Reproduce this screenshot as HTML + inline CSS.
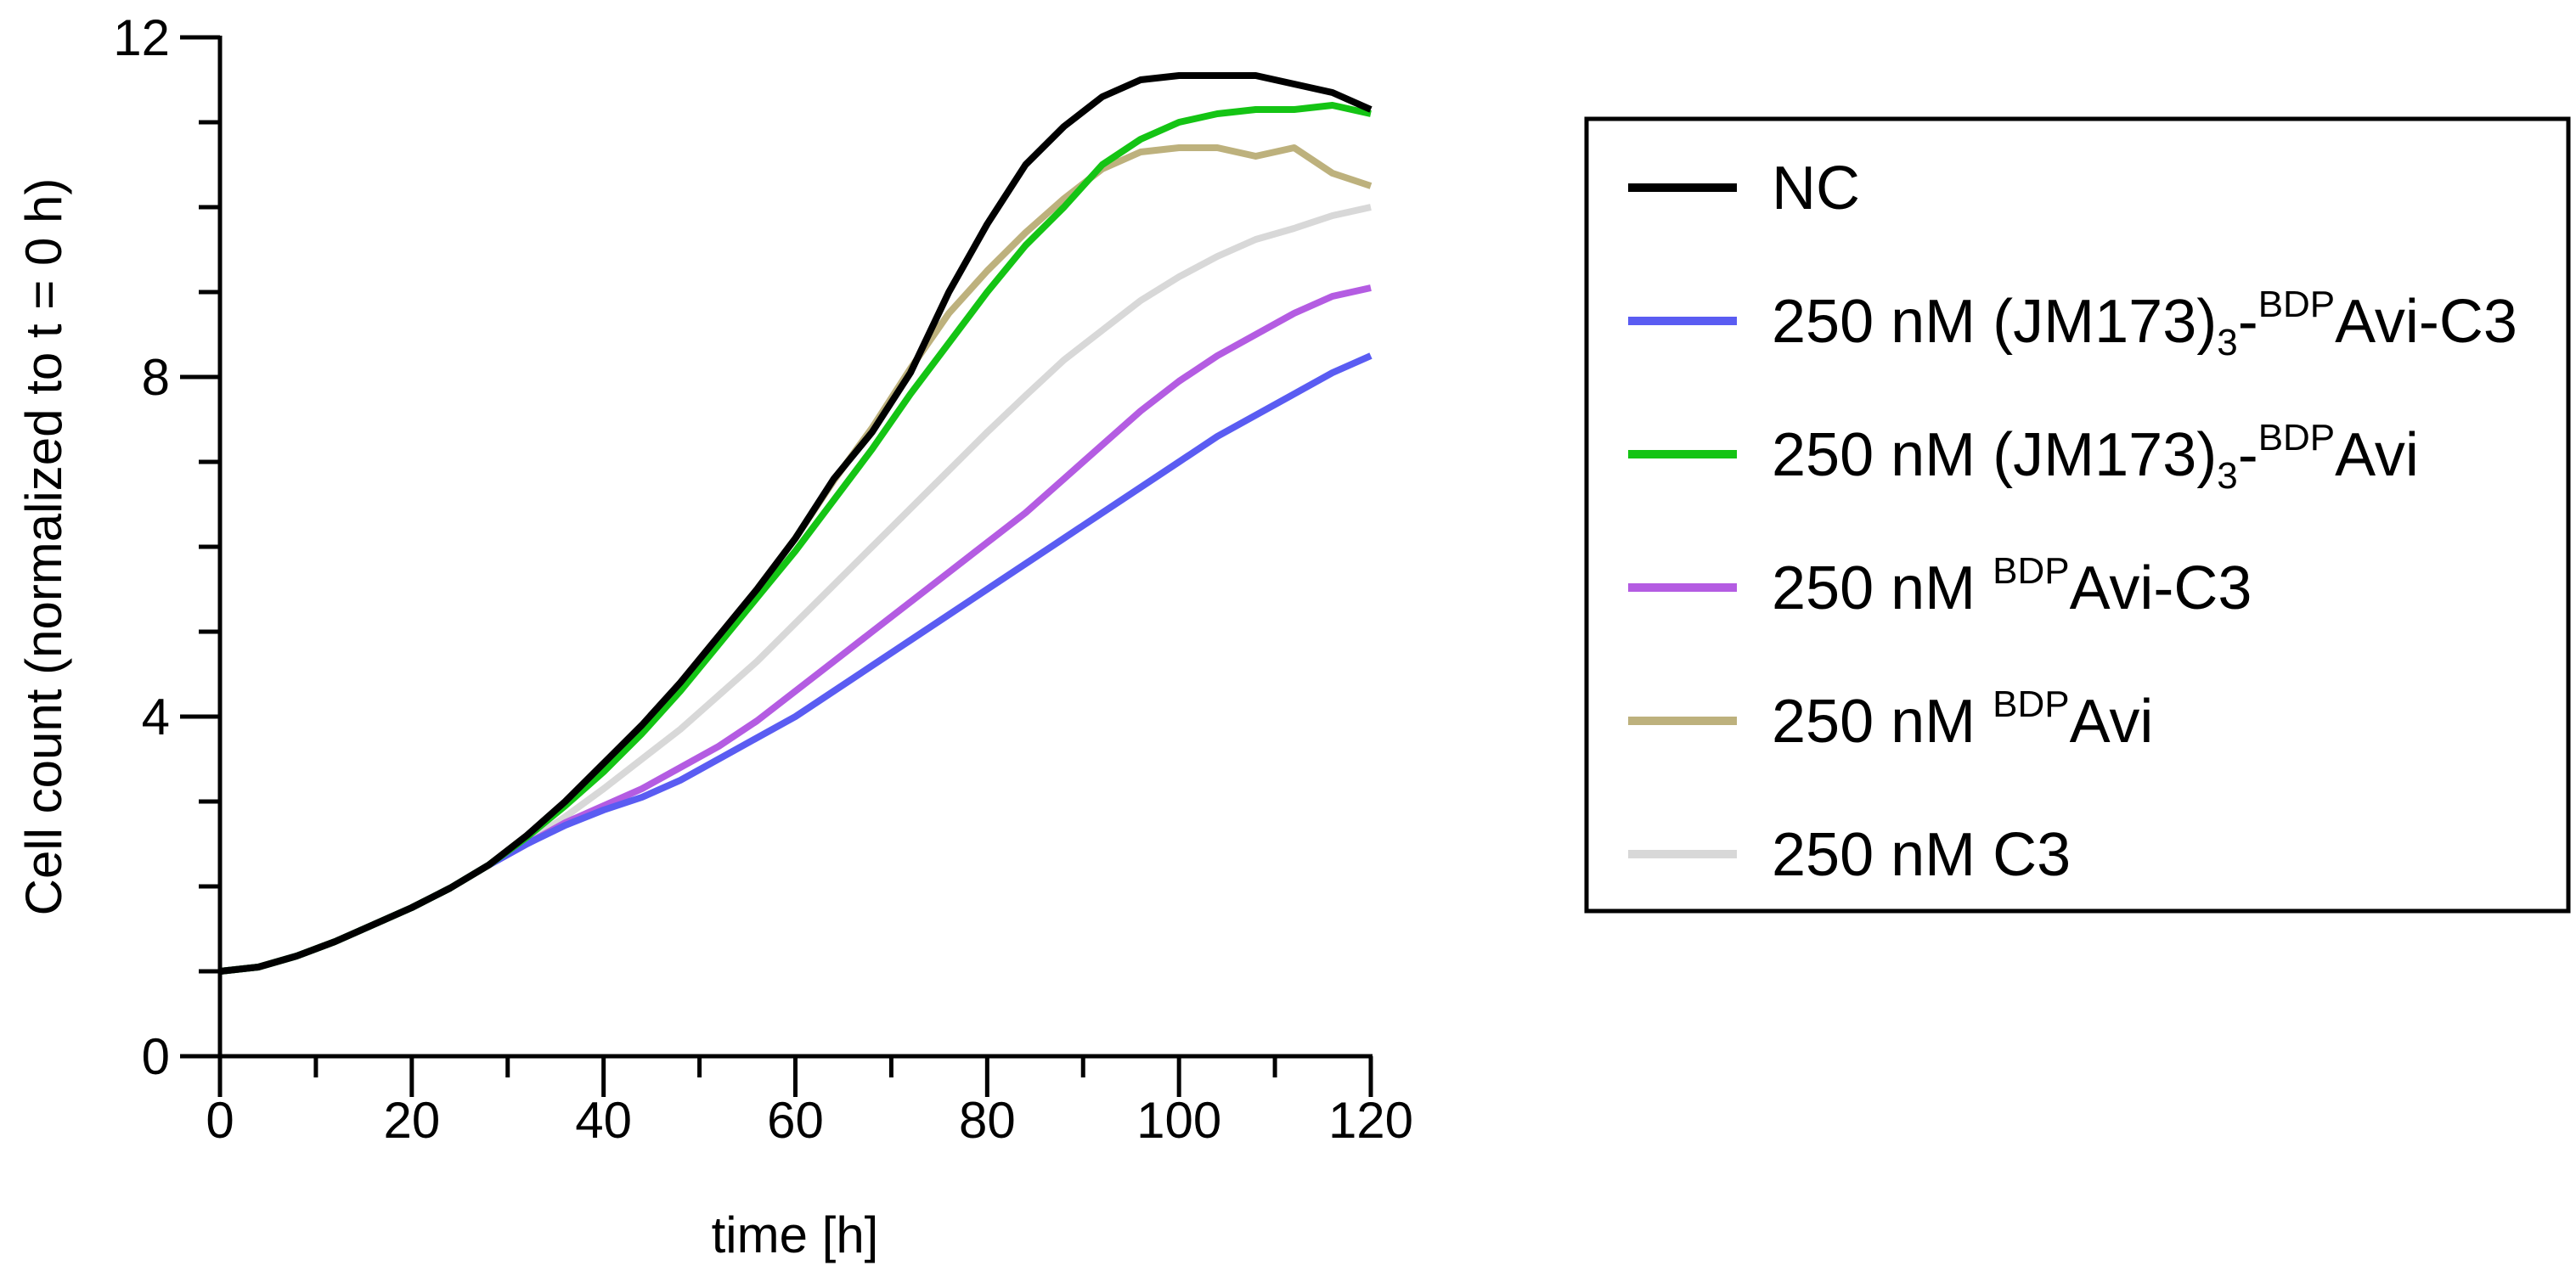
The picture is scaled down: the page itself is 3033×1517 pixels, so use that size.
<!DOCTYPE html>
<html><head><meta charset="utf-8"><style>
html,body{margin:0;padding:0;background:#fff;}
svg{display:block;font-family:"Liberation Sans",Arial,sans-serif;}
</style></head><body>
<svg id="chart" width="3033" height="1517" viewBox="0 0 3033 1517" xmlns="http://www.w3.org/2000/svg">
<g id="plot"></g>
<g id="axes"></g>
<text x="0" y="0" font-size="60" text-anchor="middle" transform="translate(72,644) rotate(-90)">Cell count (normalized to t = 0 h)</text>
<text x="936" y="1475" font-size="60" text-anchor="middle">time [h]</text>
<g>
<rect x="1868" y="140" width="1156" height="933" fill="none" stroke="#000" stroke-width="5"/>
<g id="legend-entries"></g>
</g>
</svg>
<script>
const times = [0,4,8,12,16,20,24,28,32,36,40,44,48,52,56,60,64,68,72,76,80,84,88,92,96,100,104,108,112,116,120];
const ncValues =    [1.0,1.05,1.18,1.35,1.55,1.75,1.98,2.25,2.6,3.0,3.45,3.9,4.4,4.95,5.5,6.1,6.8,7.35,8.05,9.0,9.8,10.5,10.95,11.3,11.5,11.55,11.55,11.55,11.45,11.35,11.15];
const jmC3Values =  [1.0,1.05,1.18,1.35,1.55,1.75,1.98,2.25,2.5,2.72,2.9,3.05,3.25,3.5,3.75,4.0,4.3,4.6,4.9,5.2,5.5,5.8,6.1,6.4,6.7,7.0,7.3,7.55,7.8,8.05,8.25];
const jmValues =    [1.0,1.05,1.18,1.35,1.55,1.75,1.98,2.25,2.58,2.95,3.35,3.8,4.3,4.85,5.4,5.95,6.55,7.15,7.8,8.4,9.0,9.55,10.0,10.5,10.8,11.0,11.1,11.15,11.15,11.2,11.1];
const bdpC3Values = [1.0,1.05,1.18,1.35,1.55,1.75,1.98,2.25,2.5,2.75,2.95,3.15,3.4,3.65,3.95,4.3,4.65,5.0,5.35,5.7,6.05,6.4,6.8,7.2,7.6,7.95,8.25,8.5,8.75,8.95,9.05];
const bdpValues =   [1.0,1.05,1.18,1.35,1.55,1.75,1.98,2.25,2.6,2.98,3.4,3.88,4.4,4.95,5.5,6.1,6.78,7.4,8.1,8.75,9.25,9.7,10.1,10.45,10.65,10.7,10.7,10.6,10.7,10.4,10.25];
const c3Values =    [1.0,1.05,1.18,1.35,1.55,1.75,1.98,2.25,2.52,2.82,3.15,3.5,3.85,4.25,4.65,5.1,5.55,6.0,6.45,6.9,7.35,7.78,8.2,8.55,8.9,9.18,9.42,9.62,9.75,9.9,10.0];
const xTicks = [0,20,40,60,80,100,120];
const yTicks = [0,4,8,12];

const NS="http://www.w3.org/2000/svg";
const X0=259,X1=1614,Y0=1244,Y1=44;
const xs=t=>X0+(t/120)*(X1-X0);
const ys=v=>Y0-(v/12)*(Y0-Y1);
function mk(tag,attrs,parent){const e=document.createElementNS(NS,tag);for(const k in attrs)e.setAttribute(k,attrs[k]);parent.appendChild(e);return e;}

const plot=document.getElementById('plot');
const series=[
 {id:'c3',vals:c3Values,color:'#d8d8d8'},
 {id:'bdp-avi-c3',vals:bdpC3Values,color:'#b45ce2'},
 {id:'jm173-bdp-avi-c3',vals:jmC3Values,color:'#5a5cf2'},
 {id:'bdp-avi',vals:bdpValues,color:'#bdb17d'},
 {id:'jm173-bdp-avi',vals:jmValues,color:'#14c414'},
 {id:'nc',vals:ncValues,color:'#000000'}
];
series.forEach(s=>{
  const d=s.vals.map((v,i)=>(i?'L':'M')+xs(times[i]).toFixed(1)+','+ys(v).toFixed(1)).join(' ');
  const p=mk('path',{d:d,fill:'none',stroke:s.color,'stroke-width':8,'stroke-linejoin':'round'},plot);
  
  
});

const axes=document.getElementById('axes');
const xa=mk('line',{x1:X0,y1:Y0,x2:X1+2,y2:Y0,stroke:'#000','stroke-width':5},axes);


const ya=mk('line',{x1:X0,y1:Y0,x2:X0,y2:Y1-2,stroke:'#000','stroke-width':5},axes);


for(let t=0;t<=120;t+=10){
  const major=t%20===0;
  const l=mk('line',{x1:xs(t),y1:Y0,x2:xs(t),y2:Y0+(major?48:25),stroke:'#000','stroke-width':5},axes);
  
  
}
for(let v=0;v<=12;v+=1){
  const major=v%4===0;
  const l=mk('line',{x1:X0,y1:ys(v),x2:X0-(major?47:25),y2:ys(v),stroke:'#000','stroke-width':5},axes);
  
  
}
xTicks.forEach(t=>{
  const e=mk('text',{x:xs(t),y:1340,'font-size':60,'text-anchor':'middle'},axes);
  e.textContent=t;
  
  
});
yTicks.forEach(v=>{
  const e=mk('text',{x:200,y:ys(v)+21,'font-size':60,'text-anchor':'end'},axes);
  e.textContent=v;
  
  
});

const leg=document.getElementById('legend-entries');
const entries=[
 {color:'#000000',parts:[['NC','n']]},
 {color:'#5a5cf2',parts:[['250 nM (JM173)','n'],['3','sub'],['-','n'],['BDP','sup'],['Avi-C3','n']]},
 {color:'#14c414',parts:[['250 nM (JM173)','n'],['3','sub'],['-','n'],['BDP','sup'],['Avi','n']]},
 {color:'#b45ce2',parts:[['250 nM ','n'],['BDP','sup'],['Avi-C3','n']]},
 {color:'#bdb17d',parts:[['250 nM ','n'],['BDP','sup'],['Avi','n']]},
 {color:'#d8d8d8',parts:[['250 nM C3','n']]}
];
entries.forEach((en,i)=>{
  const y=221+i*157;
  const g=mk('g',{},leg);
  
  
  mk('line',{x1:1917,y1:y,x2:2045,y2:y,stroke:en.color,'stroke-width':10},g);
  const t=mk('text',{x:2086,y:y+25,'font-size':72,'xml:space':'preserve'},g);
  let pos=2086;
  en.parts.forEach(p=>{
    const ts=document.createElementNS(NS,'tspan');
    if(p[1]==='sub'){ts.setAttribute('font-size','44');ts.setAttribute('y',String(y+40));}
    else if(p[1]==='sup'){ts.setAttribute('font-size','44');ts.setAttribute('y',String(y-5));}
    else {ts.setAttribute('y',String(y+25));}
    ts.textContent=p[0];
    t.appendChild(ts);
  });
});
</script>
</body></html>
